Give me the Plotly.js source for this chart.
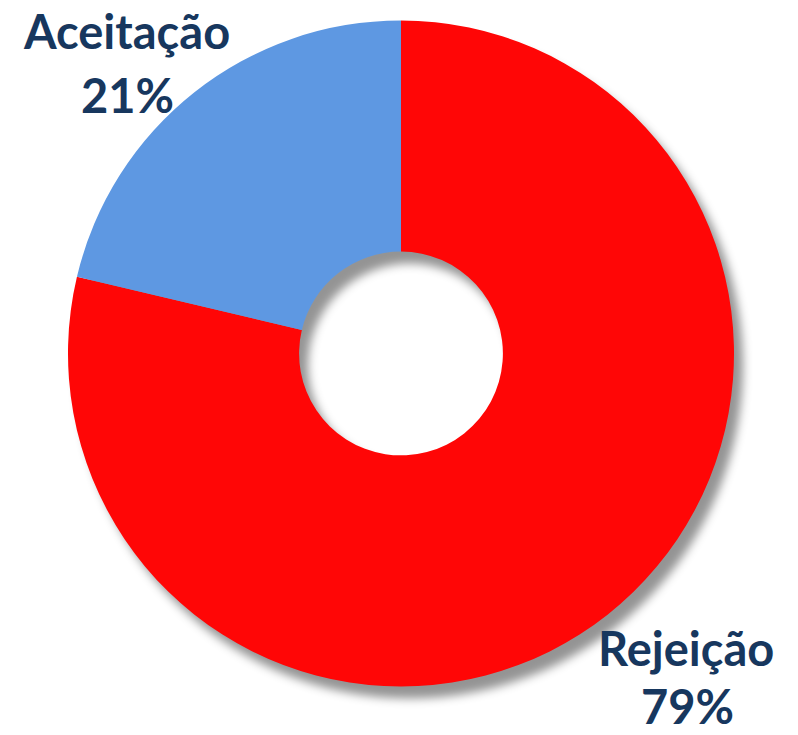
<!DOCTYPE html>
<html>
<head>
<meta charset="utf-8">
<script src="https://cdn.plot.ly/plotly-3.0.1.min.js"></script>
<style>
  html, body { margin: 0; padding: 0; background: #fff; }
  #chart { width: 798px; height: 735px; }
  .pielayer { filter: drop-shadow(9px 12px 5px rgba(0,0,0,0.42)); }
</style>
</head>
<body>
<div id="chart"></div>
<script>
const labels = ["Rejeição", "Aceitação"];
const values = [78.7, 21.3];
const colors = ["#FF0606", "#5E98E2"];

const total = values.reduce((a, b) => a + b, 0);
const pct = values.map(v => Math.round(v / total * 100) + "%");

const trace = {
  type: "pie",
  labels: labels,
  values: values,
  hole: 0.306,
  sort: false,
  direction: "clockwise",
  rotation: 0,
  textinfo: "none",
  hoverinfo: "label+percent",
  marker: { colors: colors, line: { width: 0 } },
  domain: { x: [0.0852, 0.9198], y: [0.0660, 0.9722] },
  showlegend: false
};

const labelFont = { family: "Lato, 'Open Sans', sans-serif", size: 47, color: "#17375E", weight: "bold" };

const annotations = [
  { text: "<b>" + labels[1] + "</b>", x: 0.159, y: 0.958 },
  { text: "<b>" + pct[1] + "</b>", x: 0.160, y: 0.871 },
  { text: "<b>" + labels[0] + "</b>", x: 0.860, y: 0.118 },
  { text: "<b>" + pct[0] + "</b>", x: 0.862, y: 0.040 }
].map(a => Object.assign({
  xref: "paper", yref: "paper", xanchor: "center", yanchor: "middle",
  showarrow: false, font: labelFont
}, a));

const layout = {
  width: 798, height: 735,
  margin: { l: 0, r: 0, t: 0, b: 0 },
  paper_bgcolor: "#ffffff",
  plot_bgcolor: "#ffffff",
  annotations: annotations
};

Plotly.newPlot("chart", [trace], layout, { displayModeBar: false, staticPlot: true });
</script>
</body>
</html>
